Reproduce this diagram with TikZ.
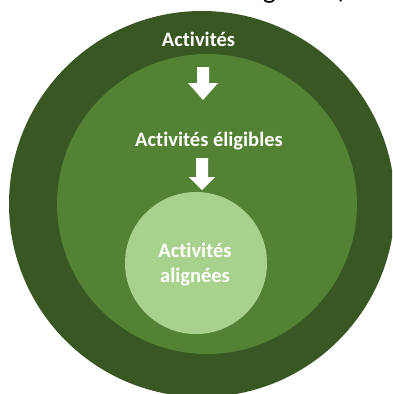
\documentclass[tikz,border=0pt]{standalone}
\usepackage{fontspec}
\setmainfont[Ligatures={NoCommon}]{Carlito}
\definecolor{darkg}{HTML}{385723}
\definecolor{midg}{HTML}{548235}
\definecolor{lightg}{HTML}{A9D18E}
\tikzset{
  ring/.style={circle, inner sep=0pt, draw=none},
  lbl/.style={text=white, anchor=base, inner sep=0pt, font=\fontsize{20.5}{24}\selectfont\bfseries},
  blockarrow/.style={fill=white, draw=none}
}
\begin{document}
\begin{tikzpicture}[x=1pt,y=-1pt]
\useasboundingbox (0,0) rectangle (392,394);
\clip (0,0) rectangle (392,394);
\node[anchor=base west, inner sep=0pt, font=\fontsize{28}{30}\selectfont] (title) at (236,-1.5) {éligibles (};
\node[ring, fill=darkg, minimum size=386pt] (outer) at (202,204) {};
\node[ring, fill=midg, minimum size=300pt] (mid) at (207,204) {};
\node[ring, fill=lightg, minimum size=142pt] (inner) at (196,263) {};
\node[lbl] (act) at (198.5,46) {Activités};
\node[lbl] (elig) at (209,146) {Activités éligibles};
\node[lbl] (al1) at (195,257) {Activités};
\node[lbl] (al2) at (195,282) {alignées};
\fill[blockarrow] (197,67) -- (209,67) -- (209,83) -- (218,83) -- (203,100) -- (188,83) -- (197,83) -- cycle;
\fill[blockarrow] (196,158) -- (208,158) -- (208,177) -- (215,177) -- (202,190) -- (189,177) -- (196,177) -- cycle;
\end{tikzpicture}
\end{document}
